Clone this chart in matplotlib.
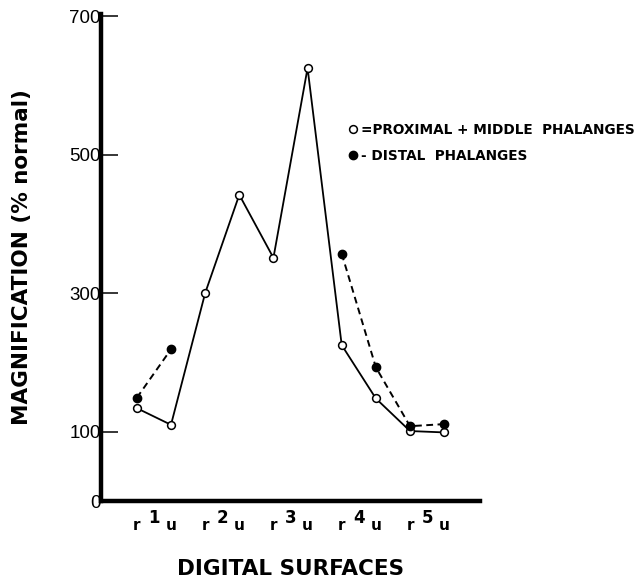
import numpy as np
import matplotlib
matplotlib.use("Agg")
import matplotlib.pyplot as plt
from matplotlib.lines import Line2D

# ---- data ----
surfaces = ["r", "u", "r", "u", "r", "u", "r", "u", "r", "u"]
digits = ["1", "2", "3", "4", "5"]
proximal_middle = [134, 110, 300, 442, 351, 625, 225, 148, 101, 99]
distal = [149, 219, np.nan, np.nan, np.nan, np.nan, 357, 193, 108, 111]
y_ticks = [0, 100, 300, 500, 700]
y_tick_labels = ["0", "100", "300", "500", "700"]
legend_labels = ["=PROXIMAL + MIDDLE  PHALANGES", "- DISTAL  PHALANGES"]

fig = plt.figure(figsize=(6.44, 5.80), dpi=100)
ax = fig.add_axes([101/644, 1-501/580, (480-101)/644, (501-14)/580])

x = np.arange(len(surfaces))
ax.plot(x, proximal_middle, color="black", lw=1.3, marker="o", ms=5.6,
        mfc="white", mec="black", mew=1.1, zorder=3)
ax.plot(x, distal, color="black", lw=1.4, ls=(0, (3.5, 2.3)), marker="o",
        ms=6.0, mfc="black", mec="black", zorder=4)

ax.set_xlim(-1.05, 10.05)
ax.set_ylim(0, 703)

for s in ["top", "right"]:
    ax.spines[s].set_visible(False)
for s in ["left", "bottom"]:
    ax.spines[s].set_linewidth(3.2)
    ax.spines[s].set_capstyle("projecting")

ax.set_yticks(y_ticks)
ax.set_yticklabels(y_tick_labels, family="Liberation Sans", fontsize=13.5)
ax.tick_params(axis="y", direction="in", length=12.5, width=1.1, pad=0)

ax.set_xticks(x)
ax.set_xticklabels(surfaces, fontsize=11, fontweight="bold")
ax.set_xticks(x[::2] + 0.5, minor=True)
ax.set_xticklabels(digits, minor=True, fontsize=12, fontweight="bold")
ax.tick_params(axis="x", which="major", length=0, pad=12)
ax.tick_params(axis="x", which="minor", length=0, pad=6)

ax.set_ylabel("MAGNIFICATION (% normal)", fontsize=15.5, fontweight="bold",
              labelpad=27)
ax.set_xlabel("DIGITAL SURFACES", fontsize=15.5, fontweight="bold",
              labelpad=19)

handles = [
    Line2D([], [], ls="none", marker="o", ms=5.6, mfc="white", mec="black", mew=1.1),
    Line2D([], [], ls="none", marker="o", ms=6.0, mfc="black", mec="black"),
]
fig.legend(handles, legend_labels, loc="center left",
           bbox_to_anchor=(349/644, 1-143/580), frameon=False,
           handlelength=0.6, handletextpad=0.3, borderpad=0, borderaxespad=0,
           labelspacing=0.9, prop={"weight": "bold", "size": 9.8})

fig.savefig("out.png", dpi=100)
